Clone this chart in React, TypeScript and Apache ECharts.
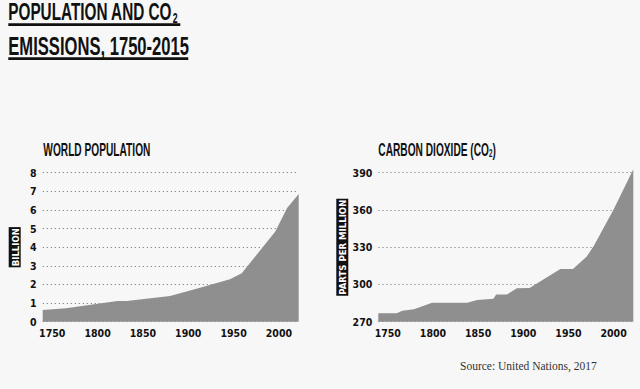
import React, { useEffect, useRef } from "react";
import * as echarts from "echarts";

// ---------- data ----------
const xLabelYears = [1750, 1800, 1850, 1900, 1950, 2000];

const popYears = [1739.5, 1765, 1822, 1832, 1880, 1913, 1946, 1959, 1996, 2009, 2021.8];
const popValues = [0.63, 0.72, 1.11, 1.11, 1.38, 1.82, 2.28, 2.6, 4.84, 6.1, 6.85];

const co2Years = [
  1739.5, 1760, 1766, 1779, 1799, 1838, 1849, 1867, 1870, 1882, 1893, 1907, 1941, 1955, 1970,
  1978, 2000, 2021.8,
];
const co2Values = [
  276.8, 276.8, 278.9, 280, 285.3, 285.3, 287.5, 288.5, 292, 292, 297, 297.2, 312.4, 312.4,
  322.3, 331, 360.3, 392.7,
];

const titleLine1 = "POPULATION AND CO";
const titleLine2 = "EMISSIONS, 1750-2015";
const popTitle = "WORLD POPULATION";
const co2Title = "CARBON DIOXIDE (CO";
const popUnit = "BILLION";
const co2Unit = "PARTS PER MILLION";
const sourceText = "Source: United Nations, 2017";

// ---------- styles ----------
const BG = "#f7f7f7";
const INK = "#111111";
const AREA = "#8f8f8f";
const GRID = "#8a8a8a";
const NARROW = '"Liberation Sans Narrow", "DejaVu Sans Condensed", "Arial Narrow", sans-serif';
const WIDE = '"Liberation Sans", Arial, sans-serif';

const pairs = (xs: number[], ys: number[]) => xs.map((x, i) => [x, ys[i]]);

function makeXAxis(gridIndex: number) {
  return {
    type: "value",
    gridIndex,
    min: 1739.5,
    max: 2021.8,
    axisLine: { show: false },
    axisTick: { show: false },
    splitLine: { show: false },
    axisLabel: {
      customValues: xLabelYears,
      formatter: (v: number) => String(v),
      margin: 6,
      color: INK,
      fontFamily: NARROW,
      fontWeight: "bold",
      fontSize: 10.5,
    },
  };
}

function makeYAxis(gridIndex: number, min: number, max: number, interval: number, name: string, gap: number) {
  return {
    type: "value",
    gridIndex,
    min,
    max,
    interval,
    z: 5,
    name,
    nameLocation: "middle",
    nameRotate: 90,
    nameGap: gap,
    nameTextStyle: {
      color: "#ffffff",
      backgroundColor: INK,
      fontFamily: NARROW,
      fontWeight: "bold",
      fontSize: 9.5,
      padding: [1, 1, 0, 1],
      lineHeight: 11,
    },
    axisLine: { show: false },
    axisTick: { show: false },
    axisLabel: {
      margin: 6,
      color: INK,
      fontFamily: NARROW,
      fontWeight: "bold",
      fontSize: 10.5,
      formatter: (v: number) => String(v),
    },
    splitLine: {
      show: true,
      lineStyle: { color: GRID, width: 1, type: [1.3, 2.7] },
    },
  };
}

function makeSeries(idx: number, data: number[][]) {
  return {
    type: "line",
    xAxisIndex: idx,
    yAxisIndex: idx,
    data,
    showSymbol: false,
    symbol: "none",
    clip: false,
    lineStyle: { width: 0, color: AREA },
    areaStyle: { color: AREA, opacity: 1 },
    z: 2,
  };
}

export default function App() {
  const ref = useRef<HTMLDivElement>(null);

  useEffect(() => {
    document.body.style.margin = "0";
    document.body.style.background = BG;
    if (!ref.current) return;
    const chart = echarts.init(ref.current, undefined, { renderer: "svg" });

    const option: any = {
      animation: false,
      backgroundColor: BG,
      grid: [
        { left: 42.7, top: 172.7, width: 256, height: 149 },
        { left: 378.3, top: 172.7, width: 255, height: 149 },
      ],
      xAxis: [makeXAxis(0), makeXAxis(1)],
      yAxis: [
        makeYAxis(0, 0, 8, 1, popUnit, 22),
        makeYAxis(1, 270, 390, 30, co2Unit, 30),
      ],
      series: [makeSeries(0, pairs(popYears, popValues)), makeSeries(1, pairs(co2Years, co2Values))],
      graphic: [
        {
          type: "text",
          x: 8.3,
          y: 12,
          scaleX: 0.625,
          style: {
            text: `{m|${titleLine1}}{s|2}`,
            verticalAlign: "middle",
            align: "left",
            rich: {
              m: { fontSize: 24.5, fontFamily: WIDE, fontWeight: "bold", fill: INK, lineHeight: 25 },
              s: {
                fontSize: 14,
                fontFamily: WIDE,
                fontWeight: "bold",
                fill: INK,
                lineHeight: 14,
                verticalAlign: "bottom",
                padding: [0, 0, 0, 1],
              },
            },
          },
        },
        { type: "rect", shape: { x: 8.3, y: 23.3, width: 172, height: 2.7 }, style: { fill: INK } },
        {
          type: "text",
          x: 8.3,
          y: 45.8,
          scaleX: 0.664,
          style: {
            text: titleLine2,
            verticalAlign: "middle",
            align: "left",
            fontSize: 25,
            fontFamily: WIDE,
            fontWeight: "bold",
            fill: INK,
          },
        },
        { type: "rect", shape: { x: 8.3, y: 57.3, width: 180, height: 2.7 }, style: { fill: INK } },
        {
          type: "text",
          x: 43.3,
          y: 149.7,
          scaleX: 0.565,
          style: {
            text: popTitle,
            verticalAlign: "middle",
            align: "left",
            fontSize: 18,
            fontFamily: WIDE,
            fontWeight: "bold",
            fill: INK,
          },
        },
        {
          type: "text",
          x: 378.3,
          y: 150,
          scaleX: 0.565,
          style: {
            text: `{m|${co2Title}}{s|2}{m|)}`,
            verticalAlign: "middle",
            align: "left",
            rich: {
              m: { fontSize: 18, fontFamily: WIDE, fontWeight: "bold", fill: INK, lineHeight: 18 },
              s: {
                fontSize: 11,
                fontFamily: WIDE,
                fontWeight: "bold",
                fill: INK,
                lineHeight: 11,
                verticalAlign: "bottom",
              },
            },
          },
        },
        {
          type: "text",
          x: 460,
          y: 366,
          style: {
            text: sourceText,
            verticalAlign: "middle",
            align: "left",
            fontSize: 11.5,
            fontFamily: '"Liberation Serif", "DejaVu Serif", serif',
            fill: "#333333",
          },
        },
      ],
    };

    chart.setOption(option);
    return () => chart.dispose();
  }, []);

  return <div ref={ref} style={{ width: 640, height: 389, background: BG }} />;
}
